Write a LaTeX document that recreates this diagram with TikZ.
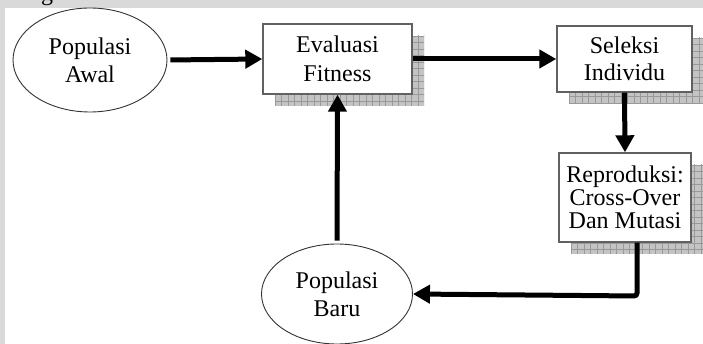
\documentclass[tikz,border=0pt]{standalone}
\usepackage{fontspec}
\setmainfont{Liberation Serif}
\usetikzlibrary{arrows.meta,calc,shapes.geometric}

\tikzset{
  lbl/.style={font=\fontsize{24}{26}\selectfont, align=center, inner sep=0pt},
  oval/.style={lbl, ellipse, draw=black!80, line width=0.9pt, fill=white},
  stepbox/.style={lbl, rectangle, draw=black!62, line width=1.4pt, fill=white},
  flow/.style={line width=5pt, -{Triangle[length=17pt,width=18pt]}},
  shadowfill/.style={fill=black!23},
  shadowgrid/.style={draw=black!40, line width=0.45pt},
}

% Grid-patterned drop shadow behind a box, offset by (12,12)
\newcommand{\gridshadow}[4]{%
  \begin{scope}
    \clip (#1+12,#2+12) rectangle (#3+12,#4+12);
    \fill[shadowfill] (#1+12,#2+12) rectangle (#3+12,#4+12);
    \foreach \gx in {0,6.5,...,200} \draw[shadowgrid] (#1+12+\gx,#2) -- (#1+12+\gx,#4+14);
    \foreach \gy in {0,6.5,...,120} \draw[shadowgrid] (#1,#2+12+\gy) -- (#3+14,#2+12+\gy);
  \end{scope}}

\begin{document}
\begin{tikzpicture}[x=1pt,y=-1pt]
  \useasboundingbox (0,0) rectangle (703,344);
  \fill[white] (0,0) rectangle (703,344);

  % page edges of the scanned sheet
  \fill[black!15] (0,0) rectangle (703,8.5);
  \fill[black!15] (0,0) rectangle (4.5,344);
  \begin{scope}
    \clip (0,0) rectangle (703,8.5);
    \node[lbl, anchor=base west] (capg) at (41,1) {g};
  \end{scope}

  % shadows
  \gridshadow{263}{24}{412}{94}
  \gridshadow{557}{26}{692}{92}
  \gridshadow{559}{153}{691}{242}

  % nodes
  \node[oval, minimum width=154pt, minimum height=104pt] (awal) at (90,60)
    {Populasi\\[2pt]Awal};
  \node[stepbox, minimum width=149pt, minimum height=70pt] (eval) at (337.5,59)
    {Evaluasi\\[3pt]Fitness};
  \node[stepbox, minimum width=135pt, minimum height=66pt] (sel) at (624.5,59)
    {Seleksi\\[1pt]Individu};
  \node[stepbox, minimum width=132pt, minimum height=89pt] (rep) at (625,197.5)
    {Reproduksi:\\[-3pt]Cross-Over\\[-3pt]Dan Mutasi};
  \node[oval, minimum width=151pt, minimum height=100pt] (baru) at (337,294)
    {Populasi\\[2pt]Baru};

  \coordinate (turn) at (637,296);

  % connectors
  \draw[flow, shorten <=3pt] (awal.east) -- (eval.west);
  \draw[flow] (eval.east) -- (sel.west);
  \draw[flow] (sel.south) -- (rep.north);
  \draw[flow, rounded corners=3pt] (rep.south -| turn) -- (turn) -- (baru.east);
  \draw[flow, shorten <=3pt] (baru.north) -- (eval.south);
\end{tikzpicture}
\end{document}
